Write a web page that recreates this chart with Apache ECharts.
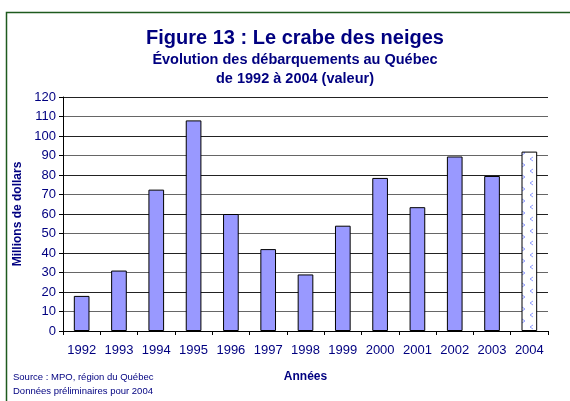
<!DOCTYPE html>
<html>
<head>
<meta charset="utf-8">
<script src="https://cdn.jsdelivr.net/npm/echarts@6/dist/echarts.min.js"></script>
<style>
  html, body { margin: 0; padding: 0; background: #fff; }
  #chart { width: 570px; height: 401px; }
</style>
</head>
<body>
<div id="chart"></div>
<script>
// données
var annees = ['1992', '1993', '1994', '1995', '1996', '1997', '1998', '1999', '2000', '2001', '2002', '2003', '2004']
var valeurs = [18, 31, 72.5, 108, 60, 42, 29, 54, 78.5, 63.5, 89.5, 79.5, 92]
var preliminaire = '2004' // données préliminaires

var navy = '#000080'

// motif pour la barre préliminaire (petits chevrons bleu pâle)
function makePattern() {
  var c = document.createElement('canvas')
  c.width = 16
  c.height = 12
  var ctx = c.getContext('2d')
  ctx.fillStyle = '#fff'
  ctx.fillRect(0, 0, 16, 12)
  ctx.strokeStyle = '#8f9cff'
  ctx.lineWidth = 1
  ctx.beginPath()
  ctx.moveTo(5, 1); ctx.lineTo(2, 3); ctx.lineTo(5, 5)
  ctx.moveTo(10, 7); ctx.lineTo(13, 9); ctx.lineTo(10, 11)
  ctx.stroke()
  return c
}

var barData = valeurs.map(function (v, i) {
  if (annees[i] === preliminaire) {
    return {
      value: v,
      itemStyle: {
        color: { image: makePattern(), repeat: 'repeat' },
        borderColor: '#000',
        borderWidth: 1
      }
    }
  }
  return v
})

var chart = echarts.init(document.getElementById('chart'))
chart.setOption({
  animation: false,
  textStyle: { fontFamily: 'Liberation Sans, Arial, sans-serif' },
  title: [
    {
      text: 'Figure 13 : Le crabe des neiges',
      left: 290, top: 23, textAlign: 'center',
      textStyle: { color: navy, fontSize: 20, fontWeight: 'bold' }
    },
    {
      text: 'Évolution des débarquements au Québec\nde 1992 à 2004 (valeur)',
      left: 290, top: 45, textAlign: 'center',
      textStyle: { color: navy, fontSize: 14.5, fontWeight: 'bold', lineHeight: 19 }
    }
  ],
  grid: { left: 63, right: 22, top: 97, bottom: 70 },
  xAxis: {
    type: 'category',
    data: annees,
    name: 'Années',
    nameLocation: 'middle',
    nameGap: 40,
    nameTextStyle: { color: navy, fontSize: 12, fontWeight: 'bold' },
    axisLine: { lineStyle: { color: '#000', width: 1 } },
    axisTick: { show: true, length: 4, lineStyle: { color: '#000' } },
    axisLabel: { color: navy, fontSize: 13, margin: 13, interval: 0 }
  },
  yAxis: {
    type: 'value',
    min: 0, max: 120, interval: 10,
    name: 'Millions de dollars',
    nameLocation: 'middle',
    nameGap: 37,
    nameTextStyle: { color: navy, fontSize: 12, fontWeight: 'bold' },
    axisLine: { show: true, lineStyle: { color: '#000' } },
    axisTick: { show: true, length: 4, lineStyle: { color: '#000' } },
    axisLabel: { color: navy, fontSize: 13, margin: 7 },
    splitLine: { lineStyle: { color: ['#222', '#666'], width: 1 } }
  },
  series: [{
    type: 'bar',
    data: barData,
    barWidth: '42%',
    itemStyle: { color: '#9999ff', borderColor: '#000', borderWidth: 1 }
  }],
  graphic: [
    {
      type: 'rect',
      shape: { x: 6.5, y: 12.5, width: 600, height: 420 },
      style: { fill: 'none', stroke: '#1e5a1e', lineWidth: 1.5 },
      z: -1
    },
    {
      type: 'text', left: 13, top: 372,
      style: { text: 'Source : MPO, région du Québec', fill: navy, fontSize: 9.5 }
    },
    {
      type: 'text', left: 13, top: 386,
      style: { text: 'Données préliminaires pour 2004', fill: navy, fontSize: 9.5 }
    }
  ]
})
</script>
</body>
</html>
